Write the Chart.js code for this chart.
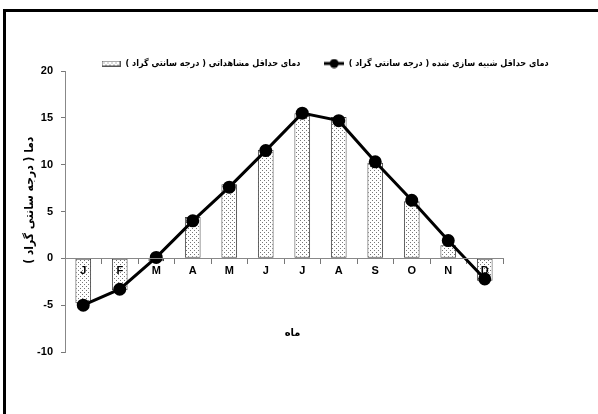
<!DOCTYPE html>
<html>
<head>
<meta charset="utf-8">
<script src="https://cdn.jsdelivr.net/npm/chart.js@4.4.1/dist/chart.umd.min.js"></script>
<style>
  html, body { margin: 0; padding: 0; background: #fff; }
  #wrap { width: 598px; height: 414px; }
</style>
</head>
<body>
<div id="wrap"><canvas id="chart" width="598" height="414"></canvas></div>
<script>
// months, observed (bars) and simulated (line) min temperature
const months = ['J', 'F', 'M', 'A', 'M', 'J', 'J', 'A', 'S', 'O', 'N', 'D'];
const observed = [-4.8, -3.4, -0.3, 4.4, 7.9, 11.6, 15.5, 15.1, 10.2, 6.1, 1.4, -2.4];
const simulated = [-5.0, -3.3, 0.1, 4.0, 7.6, 11.5, 15.5, 14.7, 10.3, 6.2, 1.9, -2.2];
const yTicks = [-10, -5, 0, 5, 10, 15, 20];

const observedLabel = 'دمای حداقل مشاهداتی ( درجه سانتی گراد )';
const simulatedLabel = 'دمای حداقل شبیه سازی شده ( درجه سانتی گراد )';
const yTitle = 'دما ( درجه سانتی گراد )';
const xTitle = 'ماه';

const numFont = '"Liberation Sans Narrow", "Liberation Sans", Arial, sans-serif';
const faFont = '"DejaVu Sans Condensed", "DejaVu Sans", sans-serif';
const nb = n => '\u00A0'.repeat(n);

// dotted fill for the observed bars
function dotPattern() {
  const c = document.createElement('canvas');
  c.width = 4; c.height = 4;
  const g = c.getContext('2d');
  g.fillStyle = '#fff';
  g.fillRect(0, 0, 4, 4);
  g.fillStyle = '#777';
  g.fillRect(0, 0, 1, 1);
  g.fillRect(2, 2, 1, 1);
  return g.createPattern(c, 'repeat');
}
const dots = dotPattern();

// legend markers, by dataset index
function boxMarker() {
  const c = document.createElement('canvas');
  c.width = 19; c.height = 6;
  const g = c.getContext('2d');
  g.fillStyle = dots;
  g.fillRect(0, 0, 19, 6);
  g.strokeStyle = '#555';
  g.lineWidth = 1;
  g.strokeRect(0.5, 0.5, 18, 5);
  return c;
}
function lineMarker() {
  const c = document.createElement('canvas');
  c.width = 20; c.height = 10;
  const g = c.getContext('2d');
  g.strokeStyle = '#000';
  g.lineWidth = 3;
  g.beginPath(); g.moveTo(0, 5); g.lineTo(20, 5); g.stroke();
  g.fillStyle = '#000';
  g.beginPath(); g.arc(10, 5, 4.5, 0, Math.PI * 2); g.fill();
  return c;
}
const markers = [boxMarker(), lineMarker()];

const framePlugin = {
  id: 'frame',
  beforeDraw(chart) {
    const ctx = chart.ctx;
    ctx.save();
    ctx.fillStyle = '#fff';
    ctx.fillRect(0, 0, chart.width, chart.height);
    ctx.fillStyle = '#000';
    ctx.fillRect(3, 9, chart.width - 3, 3);
    ctx.fillRect(3, 9, 3, chart.height - 9);
    ctx.restore();
  }
};

const legendShift = {
  id: 'legendShift',
  afterLayout(chart) {
    const lg = chart.legend;
    const w = lg.right - lg.left;
    lg.left = 97;
    lg.right = lg.left + w;
  }
};

new Chart(document.getElementById('chart'), {
  type: 'bar',
  data: {
    labels: months,
    datasets: [
      {
        type: 'bar',
        label: observedLabel,
        data: observed,
        backgroundColor: dots,
        borderColor: '#444',
        borderWidth: 1,
        borderSkipped: false,
        barPercentage: 0.43,
        categoryPercentage: 1,
        order: 2
      },
      {
        type: 'line',
        label: simulatedLabel,
        data: simulated,
        borderColor: '#000',
        borderWidth: 3,
        pointRadius: 5,
        pointBackgroundColor: '#000',
        pointBorderColor: '#000',
        tension: 0,
        order: 1
      }
    ]
  },
  options: {
    responsive: false,
    animation: false,
    layout: { padding: { top: 55, right: 95, left: 0, bottom: 62 } },
    plugins: {
      tooltip: { enabled: false },
      legend: {
        position: 'top',
        align: 'start',
        maxHeight: 16,
        labels: {
          usePointStyle: true,
          pointStyleWidth: 20,
          padding: 4,
          color: '#000',
          font: { family: faFont, size: 9, weight: 'bold' },
          generateLabels(chart) {
            const items = Chart.defaults.plugins.legend.labels.generateLabels(chart);
            items.sort((a, b) => a.datasetIndex - b.datasetIndex);
            items.forEach(it => {
              it.pointStyle = markers[it.datasetIndex];
              if (it.datasetIndex === 0) it.text = it.text + nb(7);
            });
            return items;
          }
        }
      }
    },
    scales: {
      x: {
        position: { y: 0 },
        grid: { display: true, drawOnChartArea: false, tickLength: 5, color: '#777', offset: true },
        border: { color: '#888', width: 1, z: 1 },
        ticks: { z: 1, color: '#000', padding: 1, font: { family: numFont, size: 11, weight: 'bold' } },
        title: {
          display: true,
          text: nb(5) + xTitle,
          color: '#000',
          padding: { top: 48, bottom: 0 },
          font: { family: faFont, size: 11, weight: 'bold' }
        }
      },
      y: {
        min: -10,
        max: 20,
        afterBuildTicks(scale) { scale.ticks = yTicks.map(v => ({ value: v })); },
        afterFit(scale) { scale.width = 65; },
        grid: { display: true, drawOnChartArea: false, tickLength: 4, color: '#777' },
        border: { color: '#888', width: 1 },
        ticks: { color: '#000', padding: 8, font: { family: numFont, size: 11, weight: 'bold' } },
        title: {
          display: true,
          text: nb(6) + yTitle,
          color: '#000',
          padding: { top: 23, bottom: 0 },
          font: { family: faFont, size: 12, weight: 'bold' }
        }
      }
    }
  },
  plugins: [framePlugin, legendShift]
});
</script>
</body>
</html>
